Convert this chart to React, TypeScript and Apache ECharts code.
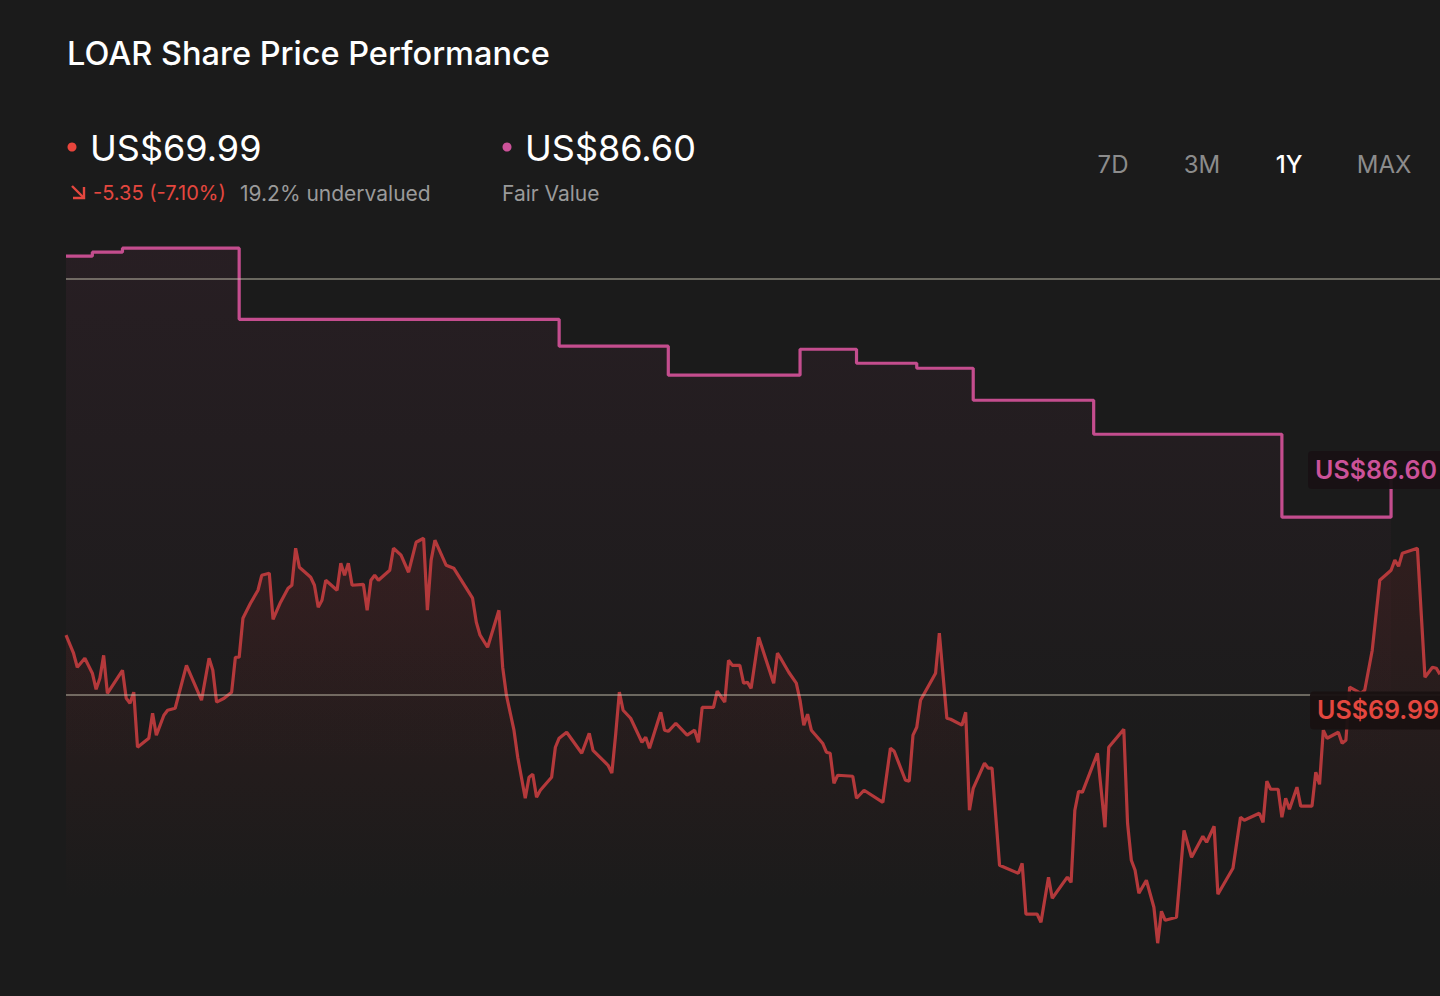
import React, { useEffect, useRef } from "react";
import * as echarts from "echarts";

// ---- data ----
// trading-calendar day index (0 = one year ago, 365 = today)
const PRICE_DAYS = [
  0, 2, 3, 5, 7, 8, 9, 10, 11, 15, 16, 17, 18, 19, 22, 23, 24, 26, 27, 29,
  32, 36, 38, 39, 40, 42, 44, 45, 46, 47, 49, 51, 52, 54, 55, 57, 59, 60, 61, 62,
  65, 66, 67, 68, 69, 72, 73, 74, 75, 76, 79, 80, 81, 82, 83, 86, 87, 89, 91, 93,
  95, 96, 97, 98, 101, 103, 108, 109, 110, 112, 115, 116, 117, 119, 120, 122, 123, 124, 125, 126,
  129, 130, 131, 133, 137, 139, 140, 144, 145, 146, 147, 148, 150, 153, 154, 155, 158, 159, 160, 162,
  165, 167, 168, 169, 172, 173, 175, 176, 177, 179, 180, 181, 182, 184, 188, 189, 190, 192, 194, 195,
  196, 197, 198, 201, 202, 203, 204, 205, 209, 210, 212, 217, 219, 220, 223, 224, 225, 226, 227, 231,
  232, 234, 235, 238, 239, 240, 241, 244, 245, 246, 248, 253, 254, 255, 258, 259, 261, 262, 266, 267,
  268, 269, 270, 274, 276, 277, 281, 282, 283, 284, 285, 287, 289, 290, 291, 292, 295, 297, 299, 302,
  303, 305, 306, 310, 312, 313, 317, 318, 319, 320, 322, 323, 324, 325, 327, 328, 331, 332, 333, 334,
  335, 338, 339, 340, 341, 344, 345, 347, 349, 352, 353, 354, 355, 359, 361, 363, 364, 365,
];
const PRICES = [
  74.33, 73.03, 72.02, 72.67, 71.59, 70.43, 71.23, 72.88, 70.14, 71.8, 69.78, 69.42, 70.22, 66.25, 66.9, 68.7, 67.12, 68.56, 68.92, 69.06,
  72.16, 69.64, 72.67, 71.8, 69.5, 69.78, 70.22, 72.74, 72.74, 75.55, 76.63, 77.57, 78.65, 78.8, 75.48, 76.71, 77.72, 77.93, 80.6, 79.23,
  78.51, 77.93, 76.35, 76.85, 78.29, 77.57, 79.52, 78.65, 79.52, 77.93, 78.0, 76.13, 78.29, 78.65, 78.29, 79.01, 80.6, 80.1, 78.87, 81.03,
  81.32, 76.13, 79.74, 81.18, 79.37, 79.16, 77.0, 75.26, 74.33, 73.46, 76.13, 72.02, 70.0, 67.48, 65.53, 62.57, 64.09, 64.3, 62.64, 63.15,
  64.09, 66.25, 66.9, 67.33, 65.82, 67.26, 66.03, 64.95, 64.38, 67.12, 70.22, 68.92, 68.34, 66.61, 66.97, 66.18, 68.77, 67.48, 67.4, 67.98,
  67.12, 67.48, 66.61, 69.13, 69.13, 70.29, 69.5, 72.52, 72.16, 72.16, 70.87, 70.94, 70.5, 74.18, 70.87, 73.03, 72.6, 71.66, 70.87, 69.64,
  67.84, 68.63, 67.48, 66.54, 65.89, 65.82, 63.65, 64.23, 64.16, 62.57, 63.15, 62.28, 66.18, 65.96, 63.87, 63.8, 67.12, 67.69, 69.64, 71.59,
  74.47, 68.34, 68.27, 67.84, 68.77, 61.71, 63.29, 65.1, 64.74, 64.74, 57.74, 57.16, 57.88, 54.21, 54.21, 53.63, 56.88, 55.36, 56.88, 56.51,
  61.71, 63.08, 63.0, 65.82, 60.48, 66.25, 67.55, 60.77, 58.1, 57.38, 55.72, 56.66, 54.71, 52.12, 54.42, 53.77, 53.99, 60.26, 58.32, 59.83,
  59.4, 60.55, 55.65, 57.52, 61.2, 60.99, 61.49, 60.84, 63.8, 63.22, 63.22, 61.2, 62.57, 61.78, 63.37, 62.0, 62.0, 64.45, 63.58, 67.48,
  66.9, 67.33, 66.54, 66.75, 70.58, 70.14, 70.36, 73.25, 78.29, 79.01, 79.74, 79.3, 80.24, 80.6, 71.3, 72.02, 71.95, 71.51,
];
const FAIR_DAYS = [0, 7, 15, 46, 131, 160, 195, 210, 226, 241, 273, 323, 352];
const FAIR_VALUES = [101.66, 101.95, 102.24, 97.11, 95.17, 93.08, 94.95, 93.94, 93.58, 91.27, 88.82, 82.84, 86.6];
const GRID_LEVELS = [70, 100];

const TITLE = "LOAR Share Price Performance";
const CURRENT_PRICE = 69.99;
const FAIR_VALUE = 86.6;
const CHANGE_TEXT = "-5.35 (-7.10%)";
const VALUATION_TEXT = "19.2% undervalued";
const PERIODS = ["7D", "3M", "1Y", "MAX"];
const ACTIVE_PERIOD = "1Y";

const FONT = "Inter, 'Noto Sans', sans-serif";
const BG = "#1b1b1b";
const RED = "#b4393b";
const RED_TEXT = "#e4473f";
const PINK = "#c44d8e";
const PINK_TEXT = "#cc5299";

export default function App() {
  const ref = useRef<HTMLDivElement>(null);

  useEffect(() => {
    if (!ref.current) return;
    const chart = echarts.init(ref.current, undefined, { renderer: "svg" });

    const option: any = {
      animation: false,
      backgroundColor: BG,
      grid: { left: 66, right: 0, top: 196, bottom: 2.6, containLabel: false },
      xAxis: { type: "value", min: 0, max: 365, show: false },
      yAxis: {
        type: "value",
        min: 48.5,
        max: 106,
        show: false,
        splitLine: { show: false },
      },
      series: [
        {
          name: "Fair Value",
          type: "line",
          step: "end",
          z: 2,
          showSymbol: false,
          data: FAIR_DAYS.map((d, i) => [d, FAIR_VALUES[i]]),
          lineStyle: { color: PINK, width: 3.2 },
          areaStyle: {
            color: new echarts.graphic.LinearGradient(0, 0, 0, 1, [
              { offset: 0, color: "rgba(190,70,130,0.11)" },
              { offset: 0.7, color: "rgba(190,70,130,0.0)" },
            ]),
          },
        },
        {
          name: "Price",
          type: "line",
          z: 3,
          showSymbol: false,
          data: PRICE_DAYS.map((d, i) => [d, PRICES[i]]),
          lineStyle: { color: RED, width: 3.2 },
          areaStyle: {
            color: new echarts.graphic.LinearGradient(0, 0, 0, 1, [
              { offset: 0, color: "rgba(170,45,45,0.22)" },
              { offset: 0.8, color: "rgba(170,45,45,0.0)" },
            ]),
          },
          markLine: {
            silent: true,
            symbol: "none",
            label: { show: false },
            lineStyle: { color: "rgba(205,200,180,0.6)", width: 1.5, type: "solid" },
            data: GRID_LEVELS.map((v) => ({ yAxis: v })),
          },
        },
      ],
    };
    chart.setOption(option);

    const yPx = (v: number) => (chart.convertToPixel({ gridIndex: 0 }, [0, v]) as number[])[1];
    const fairY = yPx(FAIR_VALUE) + 5;
    const priceY = yPx(CURRENT_PRICE) + 15;

    const periodX = [1113, 1202, 1289, 1384];
    const arrowStyle = { stroke: RED_TEXT, lineWidth: 2.4, fill: "none", lineCap: "butt", lineJoin: "miter" };

    const graphic: any[] = [
      {
        type: "text",
        x: 67,
        y: 53,
        style: { text: TITLE, fill: "#ffffff", fontSize: 32.5, fontWeight: 500, fontFamily: FONT, textVerticalAlign: "middle" },
      },
      { type: "circle", shape: { cx: 72, cy: 147, r: 4.5 }, style: { fill: "#e8453c" } },
      {
        type: "text",
        x: 90,
        y: 148,
        style: { text: "US$" + CURRENT_PRICE.toFixed(2), fill: "#ffffff", fontSize: 36, fontWeight: 400, fontFamily: FONT, textVerticalAlign: "middle" },
      },
      { type: "line", shape: { x1: 72, y1: 186, x2: 83, y2: 197 }, style: arrowStyle },
      { type: "polyline", shape: { points: [[73, 198], [84, 198], [84, 187]] }, style: arrowStyle },
      {
        type: "text",
        x: 93,
        y: 193,
        style: { text: CHANGE_TEXT, fill: RED_TEXT, fontSize: 20, fontFamily: FONT, textVerticalAlign: "middle" },
      },
      {
        type: "text",
        x: 240,
        y: 193,
        style: { text: VALUATION_TEXT, fill: "#9a9a9a", fontSize: 21, fontFamily: FONT, textVerticalAlign: "middle" },
      },
      { type: "circle", shape: { cx: 507, cy: 147, r: 4.5 }, style: { fill: PINK_TEXT } },
      {
        type: "text",
        x: 525,
        y: 148,
        style: { text: "US$" + FAIR_VALUE.toFixed(2), fill: "#ffffff", fontSize: 36, fontWeight: 400, fontFamily: FONT, textVerticalAlign: "middle" },
      },
      {
        type: "text",
        x: 502,
        y: 193,
        style: { text: "Fair Value", fill: "#9a9a9a", fontSize: 21, fontFamily: FONT, textVerticalAlign: "middle" },
      },
      ...PERIODS.map((p, i) => ({
        type: "text",
        x: periodX[i],
        y: 164,
        style: {
          text: p,
          fill: p === ACTIVE_PERIOD ? "#ffffff" : "#8c8c8c",
          fontSize: 24,
          fontWeight: p === ACTIVE_PERIOD ? 500 : 400,
          fontFamily: FONT,
          textAlign: "center",
          textVerticalAlign: "middle",
        },
      })),
      {
        type: "rect",
        z: 10,
        shape: { x: 1308, y: fairY - 19, width: 140, height: 38, r: 4 },
        style: { fill: "rgba(24,17,20,0.95)" },
      },
      {
        type: "text",
        z: 11,
        x: 1315,
        y: fairY,
        style: { text: "US$" + FAIR_VALUE.toFixed(2), fill: PINK_TEXT, fontSize: 25, fontWeight: 600, fontFamily: FONT, textVerticalAlign: "middle" },
      },
      {
        type: "rect",
        z: 10,
        shape: { x: 1310, y: priceY - 19, width: 140, height: 38, r: 4 },
        style: { fill: "rgba(24,17,17,0.95)" },
      },
      {
        type: "text",
        z: 11,
        x: 1317,
        y: priceY,
        style: { text: "US$" + CURRENT_PRICE.toFixed(2), fill: RED_TEXT, fontSize: 25, fontWeight: 600, fontFamily: FONT, textVerticalAlign: "middle" },
      },
    ];
    chart.setOption({ graphic });

    return () => chart.dispose();
  }, []);

  return (
    <div style={{ position: "fixed", left: 0, top: 0, width: 1440, height: 996, overflow: "hidden", background: BG }}>
      <div ref={ref} style={{ width: 1440, height: 996 }} />
    </div>
  );
}
